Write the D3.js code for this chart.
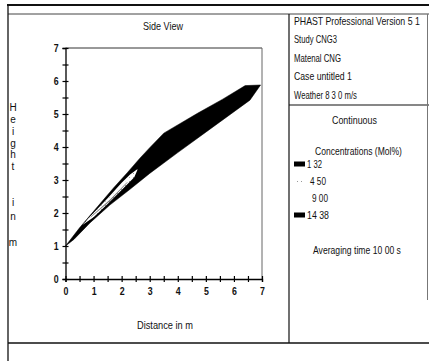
<!DOCTYPE html>
<html>
<head>
<meta charset="utf-8">
<script src="https://cdn.jsdelivr.net/npm/d3@7"></script>
<style>
  body { margin: 0; background: #fff; }
  svg { display: block; }
  text { font-family: "Liberation Sans", Arial, sans-serif; fill: #111; }
</style>
</head>
<body>
<svg id="chart" width="429" height="361"></svg>
<script>
// Plume contours, [distance m, height m]
const contour132 = [
  [0, 1.0], [0.5, 1.55], [1.0, 2.05], [1.7, 2.75], [2.2, 3.22], [2.65, 3.66], [3.0, 3.98],
  [3.5, 4.42], [4.7, 5.02], [5.6, 5.45], [6.4, 5.86], [6.95, 5.88],
  [6.57, 5.42], [5.0, 4.45], [4.0, 3.83], [3.0, 3.2], [2.3, 2.72], [1.58, 2.24],
  [0.87, 1.7], [0.3, 1.2], [0, 1.0]
];
const contour450 = [
  [0.6, 1.64], [1.0, 2.0], [1.5, 2.45], [2.0, 2.92], [2.3, 3.17], [2.58, 3.34],
  [2.45, 3.08], [2.0, 2.7], [1.5, 2.27], [1.0, 1.87], [0.6, 1.64]
];
const contour900 = [
  [0.72, 1.76], [1.5, 2.41], [2.0, 2.86], [2.45, 3.2], [2.0, 2.75], [1.5, 2.31], [0.72, 1.76]
];
const contour1438 = [
  [0.9, 1.88], [1.6, 2.41], [2.2, 2.93], [1.6, 2.38], [0.9, 1.88]
];

const xTicks = d3.range(0, 7.01, 0.5);
const yTicks = d3.range(0, 7.01, 0.5);
const tickLabels = ['0', '1', '2', '3', '4', '5', '6', '7'];

const infoLines = ['PHAST Professional Version 5 1', 'Study  CNG3', 'Matenal  CNG', 'Case  untitled 1', 'Weather  8 3 0 m/s'];
const infoWidths = [126, 43, 47, 58, 63];
const legendLabels = ['1 32', '4 50', '9 00', '14 38'];
const legendWidths = [15, 16, 16, 22];
const yLabelChars = ['H', 'e', 'i', 'g', 'h', 't', 'i', 'n', 'm'];

const svg = d3.select('#chart');

// put a text at (x, y) and squeeze it horizontally to width w, like the narrow scan font
function narrowText(parent, str, x0, y0, size, w) {
  const t = parent.append('text').attr('font-size', size).text(str);
  const natural = t.node().getComputedTextLength();
  const k = Math.min(1, w / natural);
  t.attr('transform', `translate(${x0},${y0}) scale(${k},1)`);
  return t;
}

// frame
const frame = svg.append('g').attr('stroke', '#111').attr('fill', 'none');
frame.append('line').attr('x1', 7).attr('y1', 5).attr('x2', 429).attr('y2', 5).attr('stroke-width', 2);
frame.append('line').attr('x1', 8).attr('y1', 14).attr('x2', 429).attr('y2', 14).attr('stroke-width', 1).attr('stroke', '#444');
frame.append('line').attr('x1', 8).attr('y1', 5).attr('x2', 8).attr('y2', 361).attr('stroke-width', 1.3);
frame.append('line').attr('x1', 8).attr('y1', 343).attr('x2', 429).attr('y2', 343).attr('stroke-width', 1.6);
frame.append('line').attr('x1', 289).attr('y1', 14).attr('x2', 289).attr('y2', 343).attr('stroke-width', 1.2);
frame.append('line').attr('x1', 289).attr('y1', 105).attr('x2', 429).attr('y2', 105).attr('stroke-width', 1.2);
frame.append('line').attr('x1', 427.5).attr('y1', 14).attr('x2', 427.5).attr('y2', 300).attr('stroke-width', 1).attr('stroke', '#777');

// stipple pattern for the 4.50 band
const defs = svg.append('defs');
const pat = defs.append('pattern').attr('id', 'dots').attr('width', 4).attr('height', 4)
  .attr('patternUnits', 'userSpaceOnUse');
pat.append('rect').attr('width', 4).attr('height', 4).attr('fill', '#fff');
pat.append('rect').attr('x', 1).attr('y', 1).attr('width', 1).attr('height', 1).attr('fill', '#999');

// scales
const x = d3.scaleLinear().domain([0, 7]).range([65.5, 262]);
const y = d3.scaleLinear().domain([0, 7]).range([279, 48]);

narrowText(svg, 'Side View', 143, 30, 11, 40);

// plot box top / right
svg.append('line').attr('x1', x(0)).attr('y1', y(7)).attr('x2', x(7)).attr('y2', y(7))
  .attr('stroke', '#333').attr('stroke-width', 1);
svg.append('line').attr('x1', x(7)).attr('y1', y(7)).attr('x2', x(7)).attr('y2', y(0))
  .attr('stroke', '#666').attr('stroke-width', 1);

// plume
const line = d3.line().x(d => x(d[0])).y(d => y(d[1]));
svg.append('path').attr('d', line(contour132) + 'Z').attr('fill', '#000').attr('stroke', '#000').attr('stroke-width', 0.5);
svg.append('path').attr('d', line(contour450) + 'Z').attr('fill', 'url(#dots)');
svg.append('path').attr('d', line(contour900) + 'Z').attr('fill', '#fff');
svg.append('path').attr('d', line(contour1438) + 'Z').attr('fill', '#666').attr('stroke', '#666').attr('stroke-width', 0.4);

// axes
const fmt = d => Number.isInteger(d) ? tickLabels[d] : '';
const yAxis = svg.append('g').attr('transform', `translate(${x(0)},0)`)
  .call(d3.axisLeft(y).tickValues(yTicks).tickFormat(fmt).tickSizeOuter(0).tickSize(3).tickPadding(5));
yAxis.selectAll('.tick line').attr('x1', -3).attr('x2', 3);
const xAxis = svg.append('g').attr('transform', `translate(0,${y(0)})`)
  .call(d3.axisBottom(x).tickValues(xTicks).tickFormat(fmt).tickSizeOuter(0).tickSize(3).tickPadding(5));
xAxis.selectAll('.tick line').attr('y1', -3).attr('y2', 3);
svg.selectAll('.domain').attr('stroke', '#000').attr('stroke-width', 1.3);
svg.selectAll('.tick line').attr('stroke', '#000').attr('stroke-width', 1.2);
svg.selectAll('.tick text').attr('font-size', 11).attr('font-weight', 'bold').attr('fill', '#111')
  .style('font-family', '"Liberation Sans", Arial, sans-serif').attr('transform', 'scale(0.8,1)');
yAxis.selectAll('.tick text').attr('x', -8.5);

narrowText(svg, 'Distance in m', 137, 329, 10.5, 56);

// vertical y label
const yLabelPos = [111, 123, 135, 147, 158, 170, 206, 220, 246];
svg.append('g').selectAll('text').data(yLabelChars).join('text')
  .attr('x', 13).attr('y', (d, i) => yLabelPos[i]).attr('text-anchor', 'middle')
  .attr('font-size', 10).text(d => d);

// info box
const info = svg.append('g');
infoLines.forEach((s, i) => narrowText(info, s, 294, 25 + i * 18.4, 10.5, infoWidths[i]));

narrowText(svg, 'Continuous', 332, 124, 10, 45);
narrowText(svg, 'Concentrations (Mol%)', 315, 155, 10, 87);

// legend
const swatchFill = ['#000', 'url(#dots)', '#fff', '#000'];
const leg = svg.append('g');
legendLabels.forEach((s, i) => {
  const ly = 167.5 + i * 17;
  leg.append('rect').attr('x', 294).attr('y', ly - 6).attr('width', 11).attr('height', 5)
    .attr('fill', swatchFill[i]);
  narrowText(leg, s, 294 + (i === 0 || i === 3 ? 13 : 14 + i * 2), ly, 10, legendWidths[i]);
});

narrowText(svg, 'Averaging time 10 00 s', 313, 254, 10, 88);
</script>
</body>
</html>
